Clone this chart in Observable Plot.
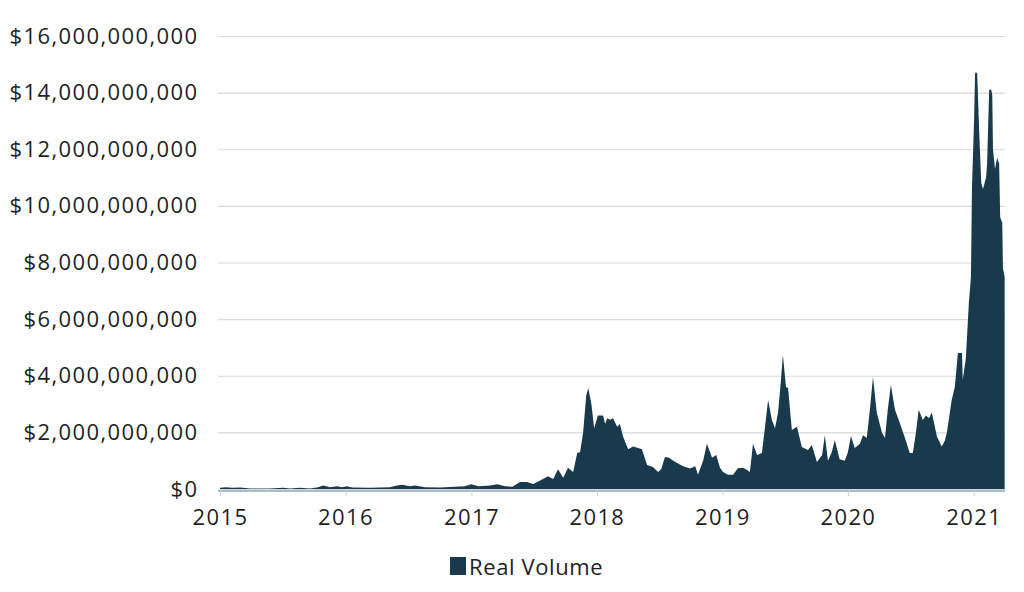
<!DOCTYPE html>
<html><head><meta charset="utf-8">
<script src="https://cdn.jsdelivr.net/npm/d3@7"></script>
<script src="https://cdn.jsdelivr.net/npm/@observablehq/plot@0.6"></script>
<style>
body{margin:0;background:#fff;font-family:"Open Sans",sans-serif;}
#wrap{position:relative;width:1024px;height:592px;overflow:hidden;}
#legend{position:absolute;left:450px;top:551px;display:flex;align-items:center;font-size:22px;letter-spacing:0.6px;color:#222;}
#legend .sw{display:inline-block;width:16px;height:18px;background:#183a4c;margin-right:3px;}
svg text{letter-spacing:1.4px;}
</style></head><body>
<div id="wrap"><div id="chart"></div><div id="legend"><span class="sw"></span><span id="legtext"></span></div></div>
<script>
const seriesName = "Real Volume";
const dates = [
"2015-01-01","2015-01-18","2015-02-05","2015-02-28","2015-03-29","2015-05-26","2015-07-03","2015-07-24","2015-08-22","2015-09-20","2015-10-13","2015-10-28","2015-11-17","2015-12-07","2015-12-22",
"2016-01-05","2016-01-20","2016-03-12","2016-05-09","2016-05-29","2016-06-13","2016-07-06","2016-07-21","2016-08-19","2016-10-02","2016-11-14","2016-12-13",
"2017-01-01","2017-01-21","2017-02-25","2017-03-17","2017-04-09","2017-04-30","2017-05-23","2017-06-12","2017-06-30","2017-07-20","2017-08-12","2017-08-27","2017-09-10","2017-09-25","2017-10-09","2017-10-24","2017-11-05","2017-11-13","2017-11-22","2017-12-01","2017-12-07","2017-12-16","2017-12-24",
"2018-01-04","2018-01-19","2018-01-25","2018-01-31","2018-02-08","2018-02-17","2018-03-01","2018-03-09","2018-03-18","2018-04-02","2018-04-16","2018-05-01","2018-05-12","2018-05-27","2018-06-13","2018-06-28","2018-07-07","2018-07-18","2018-07-30","2018-08-11","2018-08-25","2018-09-09","2018-09-29","2018-10-14","2018-10-22","2018-11-06","2018-11-17","2018-12-02","2018-12-14","2018-12-25",
"2019-01-03","2019-01-17","2019-02-01","2019-02-15","2019-03-02","2019-03-14","2019-03-22","2019-03-31","2019-04-12","2019-04-26","2019-05-05","2019-05-14","2019-05-25","2019-06-03","2019-06-12","2019-06-20","2019-06-26","2019-07-05","2019-07-11","2019-07-22","2019-08-06","2019-08-20","2019-09-07","2019-09-18","2019-10-03","2019-10-18","2019-10-26","2019-11-04","2019-11-15","2019-11-24","2019-12-08","2019-12-23",
"2020-01-01","2020-01-10","2020-01-21","2020-02-05","2020-02-14","2020-02-25","2020-03-05","2020-03-14","2020-03-25","2020-04-09","2020-04-18","2020-04-26","2020-05-05","2020-05-17","2020-05-31","2020-06-15","2020-06-29","2020-07-08","2020-07-17","2020-07-25","2020-08-06","2020-08-15","2020-08-24","2020-09-01","2020-09-16","2020-09-30","2020-10-09","2020-10-15","2020-10-29","2020-11-07","2020-11-16","2020-11-28","2020-11-30","2020-12-09","2020-12-18","2020-12-24","2020-12-27",
"2021-01-02","2021-01-05","2021-01-11","2021-01-17","2021-01-23","2021-01-28","2021-02-06","2021-02-09","2021-02-15","2021-02-21","2021-02-24","2021-02-26","2021-03-04","2021-03-10","2021-03-16","2021-03-19","2021-03-25","2021-03-27","2021-04-01"
];
const volumeBillions = [
0.04,0.06,0.04,0.05,0.02,0.02,0.04,0.02,0.04,0.02,0.06,0.12,0.06,0.10,0.06,
0.10,0.05,0.04,0.06,0.12,0.15,0.10,0.12,0.06,0.05,0.08,0.10,
0.17,0.10,0.12,0.17,0.10,0.08,0.25,0.25,0.18,0.30,0.45,0.35,0.70,0.40,0.75,0.60,1.28,1.30,2.00,3.30,3.57,3.00,2.15,
2.60,2.60,2.30,2.50,2.45,2.50,2.20,2.30,1.85,1.40,1.50,1.45,1.40,0.85,0.78,0.60,0.70,1.13,1.10,1.00,0.90,0.80,0.72,0.80,0.50,1.00,1.60,1.10,1.20,0.75,
0.60,0.50,0.50,0.73,0.75,0.67,0.60,1.60,1.20,1.27,2.20,3.14,2.44,2.15,2.70,3.80,4.73,3.60,3.57,2.08,2.20,1.48,1.38,1.55,0.95,1.20,1.90,1.00,1.30,1.73,1.05,1.00,
1.30,1.87,1.45,1.60,1.90,1.80,2.80,3.96,2.70,2.00,1.80,2.80,3.67,2.80,2.33,1.80,1.27,1.27,2.00,2.80,2.44,2.60,2.50,2.70,1.85,1.50,1.70,2.00,3.14,3.60,4.80,4.80,3.85,4.60,6.60,7.50,10.70,
13.00,14.70,14.70,12.60,10.80,10.60,11.00,11.50,14.10,14.10,13.90,12.00,11.30,11.70,11.50,9.60,9.40,7.80,7.50
];
const yTickBillions = [0,2,4,6,8,10,12,14,16];
const xTickYears = [2015,2016,2017,2018,2019,2020,2021];

const data = dates.map((d,i)=>({date: d3.isoParse(d+"T00:00:00Z"), value: volumeBillions[i]*1e9}));
const yTicks = yTickBillions.map(b=>b*1e9);
const xTicks = xTickYears.map(y=>new Date(Date.UTC(y,0,1)));
const fmt = v => "$" + d3.format(",")(v);

const chart = Plot.plot({
  width: 1024, height: 540,
  marginLeft: 218, marginRight: 19, marginTop: 36, marginBottom: 51,
  style: {fontFamily: "'Open Sans', sans-serif", fontSize: "22px", color: "#1f1f1f", background: "#fff"},
  x: {type: "utc", domain: [new Date(Date.UTC(2014,11,26)), new Date(Date.UTC(2021,3,2))]},
  y: {domain: [0, 16e9]},
  marks: [
    Plot.gridY(yTicks, {stroke: "#d9d9d9", strokeOpacity: 1, strokeWidth: 1.2}),
    Plot.areaY(data, {x: "date", y: "value", fill: "#183a4c", curve: "linear"}),
    Plot.ruleY([0], {stroke: "#a7bdc9", strokeWidth: 2, dy: 1.5}),
    Plot.axisY({ticks: yTicks, tickFormat: fmt, tickSize: 0, tickPadding: 20, label: null}),
    Plot.axisX({ticks: xTicks, tickFormat: d3.utcFormat("%Y"), tickSize: 7, tickPadding: 13, stroke: "#cfcfcf", fill: "#1f1f1f", label: null})
  ]
});
document.getElementById("chart").appendChild(chart);
document.getElementById("legtext").textContent = seriesName;
</script>
</body></html>
